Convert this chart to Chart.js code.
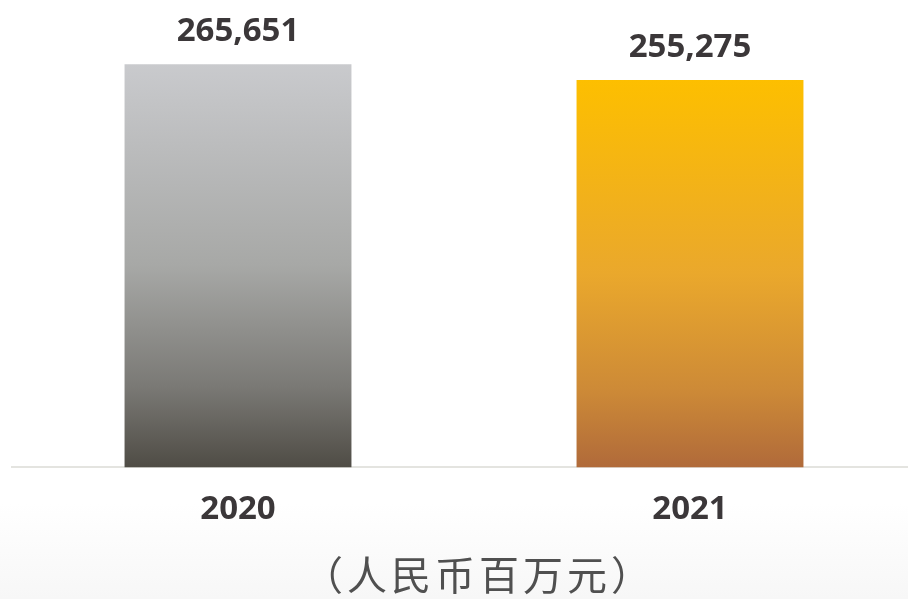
<!DOCTYPE html>
<html>
<head>
<meta charset="utf-8">
<script src="https://cdn.jsdelivr.net/npm/chart.js@4"></script>
<style>
  html, body { margin: 0; padding: 0; }
  body {
    width: 908px; height: 599px; overflow: hidden; position: relative;
    background: linear-gradient(180deg, #ffffff 0%, #ffffff 84%, #f7f7f7 100%);
  }
  #wrap { position: absolute; left: 0; top: 0; width: 920px; height: 599px; }
  #unit {
    position: absolute; left: 0; width: 958px; top: 549px; text-align: center;
    font-family: "Noto Sans CJK SC", sans-serif; font-size: 40px; color: #505050;
    letter-spacing: 4px; line-height: 48px;
  }
</style>
</head>
<body>
<div id="wrap"><canvas id="chart" width="920" height="599"></canvas></div>
<div id="unit">（人民币百万元）</div>
<script>
const years = ['2020', '2021'];
const revenue = [265651, 255275];
const barStops = [
  ['#c9cacd', '#a7a8a6', '#7a7975', '#4f4c45'],
  ['#fdbf00', '#eaa82c', '#cd8a37', '#b06a3a']
];
const textColor = '#3b3739';

function barFill(ctx) {
  const chart = ctx.chart;
  if (!chart.chartArea) return barStops[ctx.dataIndex][0];
  const y = chart.scales.y;
  const top = y.getPixelForValue(revenue[ctx.dataIndex]);
  const bottom = y.getPixelForValue(0);
  const g = chart.ctx.createLinearGradient(0, top, 0, bottom);
  const s = barStops[ctx.dataIndex];
  g.addColorStop(0, s[0]);
  g.addColorStop(0.5, s[1]);
  g.addColorStop(0.8, s[2]);
  g.addColorStop(1, s[3]);
  return g;
}

// value labels above each bar
const valueLabels = {
  id: 'valueLabels',
  afterDatasetsDraw(chart) {
    const c = chart.ctx;
    const meta = chart.getDatasetMeta(0);
    c.save();
    c.font = 'bold 33px "Open Sans", sans-serif';
    c.fillStyle = textColor;
    c.textAlign = 'center';
    c.textBaseline = 'alphabetic';
    meta.data.forEach((bar, i) => {
      c.fillText(revenue[i].toLocaleString('en-US'), bar.x, bar.y - 23);
    });
    c.restore();
  }
};

new Chart(document.getElementById('chart'), {
  type: 'bar',
  data: {
    labels: years,
    datasets: [{
      data: revenue,
      backgroundColor: barFill,
      borderWidth: 0,
      barPercentage: 0.502,
      categoryPercentage: 1
    }]
  },
  options: {
    responsive: false,
    animation: false,
    layout: { padding: { left: 12, right: 4, top: 12, bottom: 48 } },
    plugins: { legend: { display: false }, tooltip: { enabled: false } },
    scales: {
      x: {
        grid: { display: false, drawTicks: false },
        border: { display: true, color: '#e4e4e0', width: 2 },
        ticks: {
          padding: 22,
          color: textColor,
          font: { family: '"Open Sans", sans-serif', size: 33, weight: 'bold' }
        }
      },
      y: {
        display: false,
        min: 0,
        max: 300000
      }
    }
  },
  plugins: [valueLabels]
});
</script>
</body>
</html>
